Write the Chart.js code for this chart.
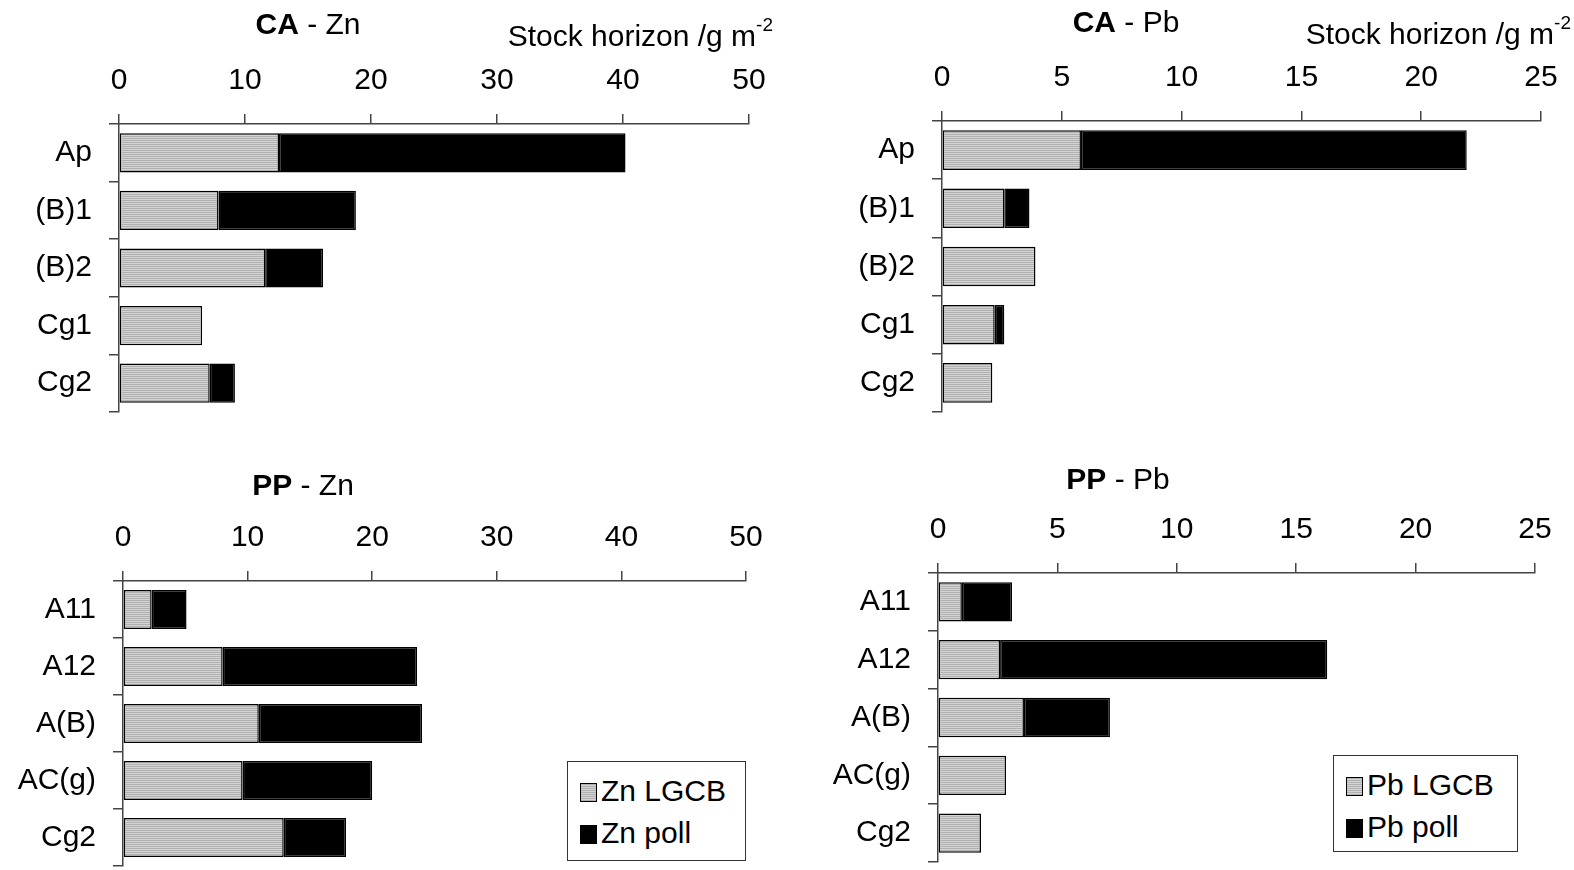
<!DOCTYPE html>
<html>
<head>
<meta charset="utf-8">
<script src="https://cdn.jsdelivr.net/npm/chart.js@4.4.1/dist/chart.umd.min.js"></script>
<style>
  body { margin: 0; background: #fff; }
  #wrap { position: relative; width: 1574px; height: 870px; overflow: hidden;
          font-family: "Liberation Sans", Arial, sans-serif; color: #000; }
  canvas { position: absolute; left: 0; top: 0; }
  .txt { position: absolute; font-size: 30px; line-height: 30px; white-space: nowrap; }
  .ttl { transform: translateX(-50%); }
  .unit { text-align: right; }
  .unit sup { font-size: 19px; position: relative; top: -4px; }
  .leg { position: absolute; border: 1px solid #333; background: #fff; }
  .leg .row { position: absolute; left: 12px; font-size: 30px; line-height: 30px; white-space: nowrap; }
  .leg .sw { display: inline-block; width: 15px; height: 17px; border: 1px solid #000;
             margin-right: 4px; vertical-align: -1px; }
  .gray { background: repeating-linear-gradient(#b0b0b0 0 1px, #d4d4d4 1px 2px); }
  .black { background: #000; }
</style>
</head>
<body>
<div id="wrap">
  <canvas id="caZn" width="1574" height="870"></canvas>
  <canvas id="caPb" width="1574" height="870"></canvas>
  <canvas id="ppZn" width="1574" height="870"></canvas>
  <canvas id="ppPb" width="1574" height="870"></canvas>

  <div class="txt ttl" style="left:308px; top:9px;"><b>CA</b> - Zn</div>
  <div class="txt ttl" style="left:1126px; top:7px;"><b>CA</b> - Pb</div>
  <div class="txt ttl" style="left:303px; top:470px;"><b>PP</b> - Zn</div>
  <div class="txt ttl" style="left:1118px; top:464px;"><b>PP</b> - Pb</div>

  <div class="txt unit" style="right:801px; top:14px;">Stock horizon /g m<sup>-2</sup></div>
  <div class="txt unit" style="right:3px; top:12px;">Stock horizon /g m<sup>-2</sup></div>

  <div class="leg" style="left:567px; top:761px; width:177px; height:98px;">
    <div class="row" style="top:14px;"><span class="sw gray"></span>Zn LGCB</div>
    <div class="row" style="top:56px;"><span class="sw black"></span>Zn poll</div>
  </div>
  <div class="leg" style="left:1333px; top:755px; width:183px; height:95px;">
    <div class="row" style="top:14px;"><span class="sw gray"></span>Pb LGCB</div>
    <div class="row" style="top:56px;"><span class="sw black"></span>Pb poll</div>
  </div>
</div>

<script>
// horizons
const caLabels = ['Ap', '(B)1', '(B)2', 'Cg1', 'Cg2'];
const ppLabels = ['A11', 'A12', 'A(B)', 'AC(g)', 'Cg2'];

// stocks g m-2: geogenic part (LGCB) and pollution part
const caZnLgcb = [12.7, 7.9, 11.6, 6.6, 7.2];
const caZnPoll = [27.5, 10.9, 4.6, 0, 2.0];
const caPbLgcb = [5.8, 2.6, 3.9, 2.2, 2.1];
const caPbPoll = [16.1, 1.05, 0, 0.4, 0];
const ppZnLgcb = [2.3, 8.0, 10.9, 9.6, 12.9];
const ppZnPoll = [2.8, 15.6, 13.1, 10.4, 5.0];
const ppPbLgcb = [1.0, 2.6, 3.6, 2.85, 1.8];
const ppPbPoll = [2.1, 13.7, 3.6, 0, 0];

const znTicks = {max: 50, step: 10};
const pbTicks = {max: 25, step: 5};

Chart.defaults.font.family = '"Liberation Sans", Arial, sans-serif';
Chart.defaults.font.size = 30;
Chart.defaults.color = '#000';

function hatch() {
    const c = document.createElement('canvas');
    c.width = 4; c.height = 2;
    const g = c.getContext('2d');
    g.fillStyle = '#d4d4d4'; g.fillRect(0, 0, 4, 2);
    g.fillStyle = '#b0b0b0'; g.fillRect(0, 0, 4, 1);
    return g.createPattern(c, 'repeat');
}
const grayFill = hatch();

const Y_W = 118, X_H = 60;
const axisColor = '#444';

// area = plot rectangle in page pixels
function makePanel(id, area, labels, lgcb, poll, ticks, names) {
    const ctx = document.getElementById(id).getContext('2d');
    return new Chart(ctx, {
        type: 'bar',
        data: {
            labels: labels,
            datasets: [
                {label: names[0], data: lgcb, backgroundColor: grayFill, borderColor: '#000', borderWidth: 1.5, borderSkipped: false},
                {label: names[1], data: poll, backgroundColor: '#000', borderColor: '#000', borderWidth: 1.5, borderSkipped: false}
            ]
        },
        options: {
            indexAxis: 'y',
            responsive: false,
            animation: false,
            barPercentage: 0.68,
            categoryPercentage: 1,
            layout: {padding: {left: area.left - Y_W, top: area.top - X_H, right: 1574 - area.right, bottom: 870 - area.bottom}},
            plugins: {legend: {display: false}, tooltip: {enabled: false}},
            scales: {
                x: {
                    position: 'top', stacked: true, min: 0, max: ticks.max,
                    ticks: {stepSize: ticks.step, padding: 15, maxRotation: 0},
                    grid: {drawOnChartArea: false, tickLength: 10, color: axisColor, lineWidth: 1.5},
                    border: {color: axisColor, width: 1.5},
                    afterFit: s => { s.height = X_H; s.paddingLeft = 0; s.paddingRight = 0; }
                },
                y: {
                    stacked: true,
                    ticks: {padding: 17},
                    grid: {offset: true, drawOnChartArea: false, tickLength: 10, color: axisColor, lineWidth: 1.5},
                    border: {color: axisColor, width: 1.5},
                    afterFit: s => { s.width = Y_W; s.paddingTop = 0; s.paddingBottom = 0; }
                }
            }
        }
    });
}

makePanel('caZn', {left: 119, top: 124, right: 749, bottom: 412}, caLabels, caZnLgcb, caZnPoll, znTicks, ['Zn LGCB', 'Zn poll']);
makePanel('caPb', {left: 942, top: 121, right: 1541, bottom: 412}, caLabels, caPbLgcb, caPbPoll, pbTicks, ['Pb LGCB', 'Pb poll']);
makePanel('ppZn', {left: 123, top: 581, right: 746, bottom: 866}, ppLabels, ppZnLgcb, ppZnPoll, znTicks, ['Zn LGCB', 'Zn poll']);
makePanel('ppPb', {left: 938, top: 573, right: 1535, bottom: 862}, ppLabels, ppPbLgcb, ppPbPoll, pbTicks, ['Pb LGCB', 'Pb poll']);
</script>
</body>
</html>
